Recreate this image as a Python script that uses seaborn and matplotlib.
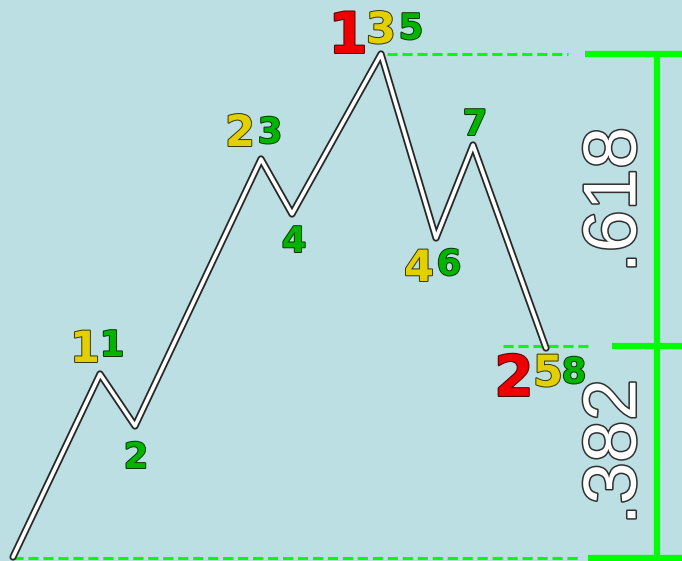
import matplotlib
matplotlib.use('Agg')
import matplotlib.pyplot as plt
import matplotlib.patheffects as pe
import seaborn as sns
import pandas as pd

# wave turning points (time, price)
wave_t = [13, 100, 135, 261, 292, 381, 436, 473, 546]
wave_p = [4, 187, 135, 402, 347, 507, 323, 416, 213]

# fibonacci levels (price) and ratio labels
fib_levels = [507, 215, 3]
fib_dash_start = [387, 503, 13]
fib_dash_end = [568, 588, 582]
fib_solid_start = [585, 612, 588]
fib_labels = ['.618', '.382']

# wave count labels: text, tier, x, baseline price
lbl_text = ['1', '3', '5', '7', '4', '6', '2', '5', '8', '2', '3', '4', '1', '1', '2']
lbl_tier = ['r', 'y', 'g', 'g', 'y', 'g', 'r', 'y', 'g', 'y', 'g', 'g', 'y', 'g', 'g']
lbl_x = [348, 381, 411, 475, 419, 449, 514, 548, 574, 240, 270, 294, 85, 112, 136]
lbl_base = [508, 518, 522, 426, 280, 286, 165, 175, 178, 415, 418, 309, 199, 205, 93]

BG = '#bbdfe3'
GREEN = '#00ff00'
tier_style = {
    'r': dict(color='#ee0000', edge='#4a0000', size=41),
    'y': dict(color='#e2d000', edge='#3a3400', size=31),
    'g': dict(color='#00b400', edge='#003800', size=25.5),
}

sns.set_style('white')
plt.rcParams['font.family'] = ['DejaVu Sans']

fig = plt.figure(figsize=(6.82, 5.61), dpi=100)
fig.patch.set_facecolor(BG)
ax = fig.add_axes([0, 0, 1, 1])
ax.set_facecolor(BG)
ax.set_xlim(0, 682)
ax.set_ylim(0, 561)
ax.axis('off')

# fib levels
for lvl, d0, d1, s0 in zip(fib_levels, fib_dash_start, fib_dash_end, fib_solid_start):
    ax.plot([d0, d1], [lvl, lvl], color=GREEN, lw=2.2, dashes=(3.3, 1.6), solid_capstyle='butt')
    ax.plot([s0, 682], [lvl, lvl], color=GREEN, lw=4.5, solid_capstyle='butt')
ax.plot([657, 657], [fib_levels[0], fib_levels[-1]], color=GREEN, lw=4.5, solid_capstyle='butt')

# ratio texts between levels
for i, txt in enumerate(fib_labels):
    mid = (fib_levels[i] + fib_levels[i + 1]) / 2
    ax.text(616, mid, txt, rotation=90, ha='center', va='center',
            fontsize=54, family=['Liberation Sans', 'DejaVu Sans'], color='white',
            path_effects=[pe.Stroke(linewidth=2.2, foreground='#303030'), pe.Normal()])

# the wave itself
df = pd.DataFrame({'t': wave_t, 'p': wave_p})
sns.lineplot(data=df, x='t', y='p', sort=False, ax=ax, color='white', lw=2.6,
             path_effects=[pe.Stroke(linewidth=5.2, foreground='#262626'), pe.Normal()])

# wave count labels
for txt, tier, x, y in zip(lbl_text, lbl_tier, lbl_x, lbl_base):
    st = tier_style[tier]
    ax.text(x, y, txt, ha='center', va='baseline', fontsize=st['size'], fontweight='bold',
            color=st['color'],
            path_effects=[pe.Stroke(linewidth=1.4, foreground=st['edge']), pe.Normal()])

fig.savefig('out.png', dpi=100, facecolor=BG)
